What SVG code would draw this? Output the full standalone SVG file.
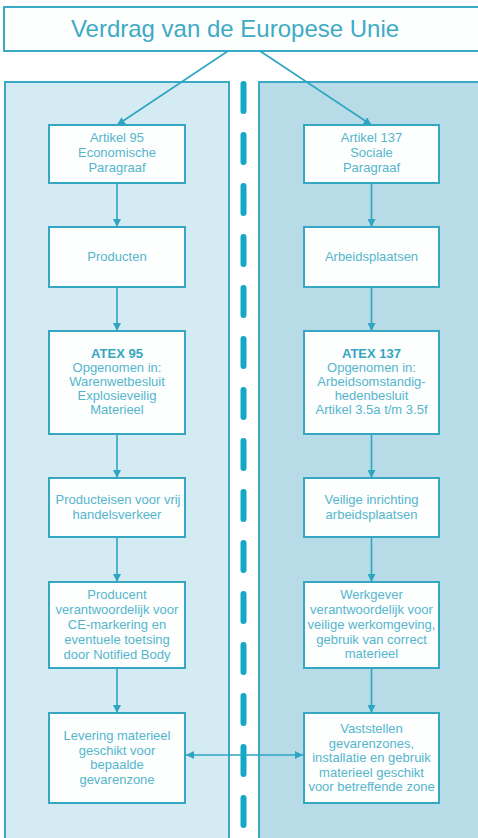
<svg xmlns="http://www.w3.org/2000/svg" width="478" height="838" viewBox="0 0 478 838">
<defs>
<style>
.panel{stroke:#3aa9c3;stroke-width:2}
.box{fill:#fdfefe;stroke:#35a7c2;stroke-width:2}
.t{font-family:"Liberation Sans",Arial,sans-serif;font-size:13px;fill:#55b6cd;text-anchor:middle}
.b{font-weight:bold;fill:#35a5c0}
.title{font-family:"Liberation Sans",Arial,sans-serif;font-size:24px;fill:#3eabc5;text-anchor:middle}
.c{stroke:#2ea6c2;stroke-width:1.6;fill:none}
</style>
<marker id="ah" markerUnits="userSpaceOnUse" markerWidth="9" markerHeight="8" refX="8" refY="4" orient="auto-start-reverse" viewBox="0 0 9 8">
<path d="M0,0 L8,4 L0,8 z" fill="#2ea6c2"/>
</marker>
</defs>
<rect width="478" height="838" fill="#ffffff"/>
<g id="panels">
<rect class="panel" x="5" y="82" width="224" height="770" fill="#d4ebf3"/>
<rect class="panel" x="259" y="82" width="230" height="770" fill="#b7dce8"/>
<line x1="243.5" y1="84" x2="243.5" y2="838" stroke="#14a8c6" stroke-width="6" stroke-linecap="round" stroke-dasharray="27 24"/>
</g>
<g id="title">
<rect x="4" y="7" width="480" height="44" fill="#fdfefe" stroke="#3aa9c3" stroke-width="2"/>
<text class="title" x="235" y="37">Verdrag van de Europese Unie</text>
</g>
<g id="connectors">
<line class="c" x1="228" y1="51" x2="117" y2="125" marker-end="url(#ah)"/>
<line class="c" x1="260" y1="51" x2="371.5" y2="125" marker-end="url(#ah)"/>
<line class="c" x1="117" y1="183" x2="117" y2="227" marker-end="url(#ah)"/>
<line class="c" x1="117" y1="287" x2="117" y2="331" marker-end="url(#ah)"/>
<line class="c" x1="117" y1="434" x2="117" y2="478" marker-end="url(#ah)"/>
<line class="c" x1="117" y1="537" x2="117" y2="582" marker-end="url(#ah)"/>
<line class="c" x1="117" y1="668" x2="117" y2="713" marker-end="url(#ah)"/>
<line class="c" x1="371.5" y1="183" x2="371.5" y2="227" marker-end="url(#ah)"/>
<line class="c" x1="371.5" y1="287" x2="371.5" y2="331" marker-end="url(#ah)"/>
<line class="c" x1="371.5" y1="434" x2="371.5" y2="478" marker-end="url(#ah)"/>
<line class="c" x1="371.5" y1="537" x2="371.5" y2="582" marker-end="url(#ah)"/>
<line class="c" x1="371.5" y1="668" x2="371.5" y2="713" marker-end="url(#ah)"/>
<line class="c" x1="186" y1="755" x2="303" y2="755" marker-start="url(#ah)" marker-end="url(#ah)"/>
</g>
<g id="n-art95">
<rect class="box" x="49" y="125" width="136" height="58"/>
<text class="t" x="117" y="142">Artikel 95</text>
<text class="t" x="117" y="157">Economische</text>
<text class="t" x="117" y="172">Paragraaf</text>
</g>
<g id="n-producten">
<rect class="box" x="49" y="227" width="136" height="60"/>
<text class="t" x="117" y="261">Producten</text>
</g>
<g id="n-atex95">
<rect class="box" x="49" y="331" width="136" height="103"/>
<text class="t b" x="117" y="358">ATEX 95</text>
<text class="t" x="117" y="372">Opgenomen in:</text>
<text class="t" x="117" y="386">Warenwetbesluit</text>
<text class="t" x="117" y="400">Explosieveilig</text>
<text class="t" x="117" y="414">Materieel</text>
</g>
<g id="n-producteisen">
<rect class="box" x="49" y="478" width="136" height="59"/>
<text class="t" x="118" y="504">Producteisen voor vrij</text>
<text class="t" x="117" y="519">handelsverkeer</text>
</g>
<g id="n-producent">
<rect class="box" x="49" y="582" width="136" height="86"/>
<text class="t" x="117" y="599">Producent</text>
<text class="t" x="117" y="614">verantwoordelijk voor</text>
<text class="t" x="117" y="629">CE-markering en</text>
<text class="t" x="117" y="644">eventuele toetsing</text>
<text class="t" x="117" y="659">door Notified Body</text>
</g>
<g id="n-levering">
<rect class="box" x="49" y="713" width="136" height="90"/>
<text class="t" x="117" y="740">Levering materieel</text>
<text class="t" x="117" y="755">geschikt voor</text>
<text class="t" x="117" y="769">bepaalde</text>
<text class="t" x="117" y="784">gevarenzone</text>
</g>
<g id="n-art137">
<rect class="box" x="304" y="125" width="135" height="58"/>
<text class="t" x="371.5" y="142">Artikel 137</text>
<text class="t" x="371.5" y="157">Sociale</text>
<text class="t" x="371.5" y="172">Paragraaf</text>
</g>
<g id="n-arbeidsplaatsen">
<rect class="box" x="304" y="227" width="135" height="60"/>
<text class="t" x="371.5" y="261">Arbeidsplaatsen</text>
</g>
<g id="n-atex137">
<rect class="box" x="304" y="331" width="135" height="103"/>
<text class="t b" x="371.5" y="358">ATEX 137</text>
<text class="t" x="371.5" y="372">Opgenomen in:</text>
<text class="t" x="371.5" y="386">Arbeidsomstandig-</text>
<text class="t" x="371.5" y="400">hedenbesluit</text>
<text class="t" x="371.5" y="414">Artikel 3.5a t/m 3.5f</text>
</g>
<g id="n-veilige">
<rect class="box" x="304" y="478" width="135" height="59"/>
<text class="t" x="371.5" y="504">Veilige inrichting</text>
<text class="t" x="371.5" y="519">arbeidsplaatsen</text>
</g>
<g id="n-werkgever">
<rect class="box" x="304" y="582" width="135" height="86"/>
<text class="t" x="371.5" y="599">Werkgever</text>
<text class="t" x="371.5" y="614">verantwoordelijk voor</text>
<text class="t" x="371.5" y="629">veilige werkomgeving,</text>
<text class="t" x="371.5" y="644">gebruik van correct</text>
<text class="t" x="371.5" y="658">materieel</text>
</g>
<g id="n-vaststellen">
<rect class="box" x="304" y="713" width="135" height="90"/>
<text class="t" x="371.5" y="733">Vaststellen</text>
<text class="t" x="371.5" y="748">gevarenzones,</text>
<text class="t" x="371.5" y="762">installatie en gebruik</text>
<text class="t" x="371.5" y="777">materieel geschikt</text>
<text class="t" x="371.5" y="791">voor betreffende zone</text>
</g>
</svg>
